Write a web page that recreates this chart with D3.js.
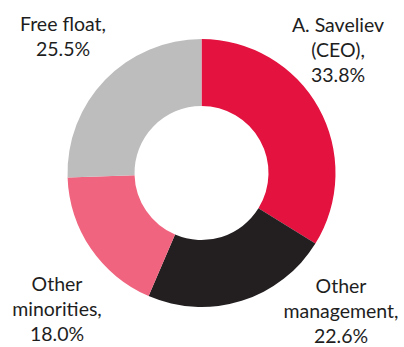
<!DOCTYPE html>
<html>
<head>
<meta charset="utf-8">
<script src="https://cdn.jsdelivr.net/npm/d3@7"></script>
<style>
  html, body { margin: 0; padding: 0; background: #ffffff; }
  svg { display: block; }
  text { font-family: Lato, "Open Sans", sans-serif; fill: #1e1e1e; }
</style>
</head>
<body>
<svg id="chart" width="404" height="347"></svg>
<script>
// Shareholder structure
const holders = ["A. Saveliev (CEO),", "Other management,", "Other minorities,", "Free float,"];
const shares = [33.8, 22.6, 18.0, 25.5];
const sliceColors = ["#e3123f", "#231f20", "#f0647f", "#bdbdbd"];

// Where each label block sits (centre x, first baseline y) and how it wraps
const labelLayout = [
  { x: 338, y: 32, lines: ["A. Saveliev", "(CEO),"] },
  { x: 341, y: 293, lines: ["Other", "management,"] },
  { x: 57, y: 291, lines: ["Other", "minorities,"] },
  { x: 63, y: 31, lines: ["Free float,"] }
];

const svg = d3.select("#chart");
const cx = 201.5, cy = 173, outerR = 134, innerR = 67;

const pie = d3.pie().sort(null).value(d => d.value);
const arc = d3.arc().innerRadius(innerR).outerRadius(outerR);

const data = holders.map((h, i) => ({ name: h, value: shares[i], color: sliceColors[i] }));

const g = svg.append("g").attr("transform", `translate(${cx},${cy})`);
g.selectAll("path")
  .data(pie(data))
  .join("path")
  .attr("d", arc)
  .attr("fill", d => d.data.color);

const fmt = d3.format(".1f");
const labels = svg.selectAll("text.lbl")
  .data(data)
  .join("text")
  .attr("class", "lbl")
  .attr("text-anchor", "middle")
  .attr("font-size", 19.5);

labels.each(function(d, i) {
  const L = labelLayout[i];
  const t = d3.select(this);
  const lines = L.lines.concat([fmt(d.value) + "%"]);
  lines.forEach((s, k) => {
    t.append("tspan").attr("x", L.x).attr("y", L.y + k * 25).text(s);
  });
});
</script>
</body>
</html>
